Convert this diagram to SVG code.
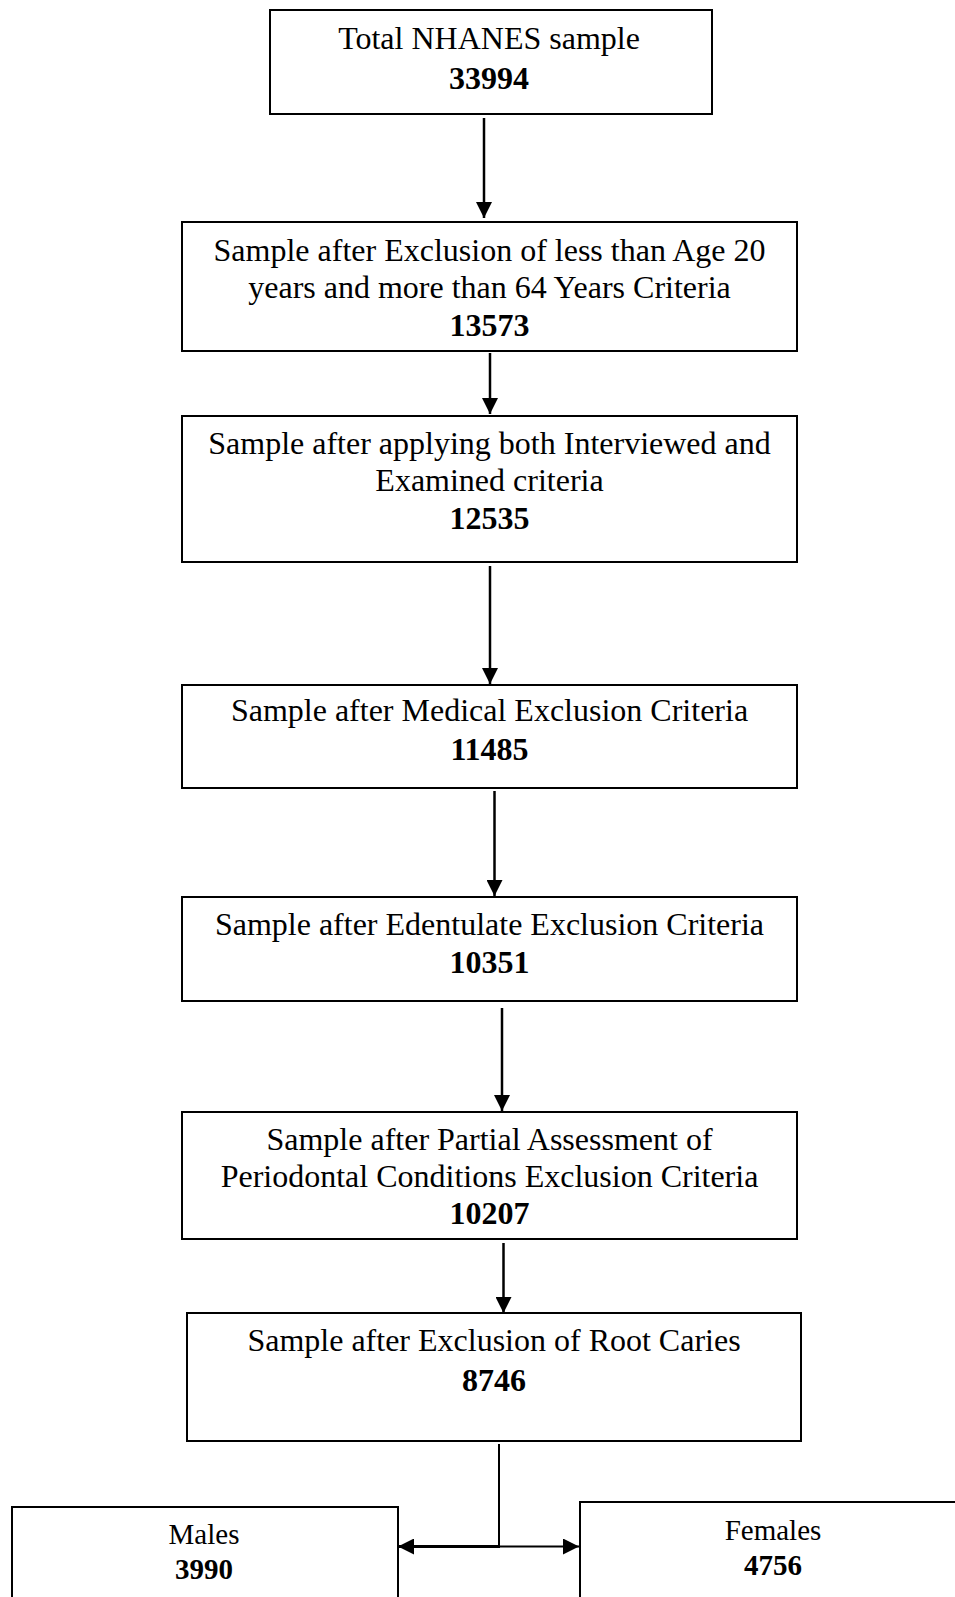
<svg xmlns="http://www.w3.org/2000/svg" width="955" height="1597" viewBox="0 0 955 1597">
  <style>
    .box { fill: #ffffff; stroke: #000000; stroke-width: 2; }
    .lbl { font-family: "Liberation Serif", "Times New Roman", serif; font-size: 32px; fill: #000000; text-anchor: middle; }
    .num { font-weight: bold; }
    .small { font-size: 29px; }
    .edge { fill: none; stroke: #000000; stroke-width: 2.5; }
  </style>
  <defs>
    <marker id="head" markerUnits="userSpaceOnUse" markerWidth="16" markerHeight="16" refX="16" refY="8" orient="auto">
      <path d="M0,0 L16,8 L0,16 Z" fill="#000000"/>
    </marker>
  </defs>
  <rect width="955" height="1597" fill="#ffffff"/>

  <!-- Flow connectors -->
  <g id="connectors">
    <line class="edge" x1="484" y1="118" x2="484" y2="218" marker-end="url(#head)"/>
    <line class="edge" x1="490" y1="353" x2="490" y2="414" marker-end="url(#head)"/>
    <line class="edge" x1="490" y1="566" x2="490" y2="684" marker-end="url(#head)"/>
    <line class="edge" x1="494.5" y1="791" x2="494.5" y2="896" marker-end="url(#head)"/>
    <line class="edge" x1="502" y1="1008" x2="502" y2="1111" marker-end="url(#head)"/>
    <line class="edge" x1="503.5" y1="1243" x2="503.5" y2="1313" marker-end="url(#head)"/>
    <!-- split into the two sex groups -->
    <line class="edge" x1="499" y1="1444" x2="499" y2="1547" style="stroke-width:2"/>
    <line class="edge" x1="500" y1="1546.5" x2="398" y2="1546.5" style="stroke-width:3.2" marker-end="url(#head)"/>
    <line class="edge" x1="499" y1="1546.5" x2="579" y2="1546.5" style="stroke-width:2.2" marker-end="url(#head)"/>
  </g>

  <g id="total">
    <rect class="box" x="270" y="10" width="442" height="104"/>
    <text class="lbl" x="489" y="49">Total NHANES sample</text>
    <text class="lbl num" x="489" y="89">33994</text>
  </g>

  <g id="age">
    <rect class="box" x="182" y="222" width="615" height="129"/>
    <text class="lbl" x="489.5" y="261">Sample after Exclusion of less than Age 20</text>
    <text class="lbl" x="489.5" y="298">years and more than 64 Years Criteria</text>
    <text class="lbl num" x="489.5" y="336">13573</text>
  </g>

  <g id="interview">
    <rect class="box" x="182" y="416" width="615" height="146"/>
    <text class="lbl" x="489.5" y="454">Sample after applying both Interviewed and</text>
    <text class="lbl" x="489.5" y="491">Examined criteria</text>
    <text class="lbl num" x="489.5" y="529">12535</text>
  </g>

  <g id="medical">
    <rect class="box" x="182" y="685" width="615" height="103"/>
    <text class="lbl" x="489.5" y="721">Sample after Medical Exclusion Criteria</text>
    <text class="lbl num" x="489.5" y="760">11485</text>
  </g>

  <g id="edentulate">
    <rect class="box" x="182" y="897" width="615" height="104"/>
    <text class="lbl" x="489.5" y="935">Sample after Edentulate Exclusion Criteria</text>
    <text class="lbl num" x="489.5" y="973">10351</text>
  </g>

  <g id="periodontal">
    <rect class="box" x="182" y="1112" width="615" height="127"/>
    <text class="lbl" x="489.5" y="1150">Sample after Partial Assessment of</text>
    <text class="lbl" x="489.5" y="1187">Periodontal Conditions Exclusion Criteria</text>
    <text class="lbl num" x="489.5" y="1224">10207</text>
  </g>

  <g id="rootcaries">
    <rect class="box" x="187" y="1313" width="614" height="128"/>
    <text class="lbl" x="494" y="1351">Sample after Exclusion of Root Caries</text>
    <text class="lbl num" x="494" y="1391">8746</text>
  </g>

  <g id="males">
    <rect class="box" x="12" y="1507" width="386" height="100"/>
    <text class="lbl small" x="204" y="1544">Males</text>
    <text class="lbl small num" x="204" y="1579">3990</text>
  </g>

  <g id="females">
    <rect class="box" x="580" y="1502" width="390" height="105"/>
    <text class="lbl small" x="773" y="1540">Females</text>
    <text class="lbl small num" x="773" y="1575">4756</text>
  </g>
</svg>
